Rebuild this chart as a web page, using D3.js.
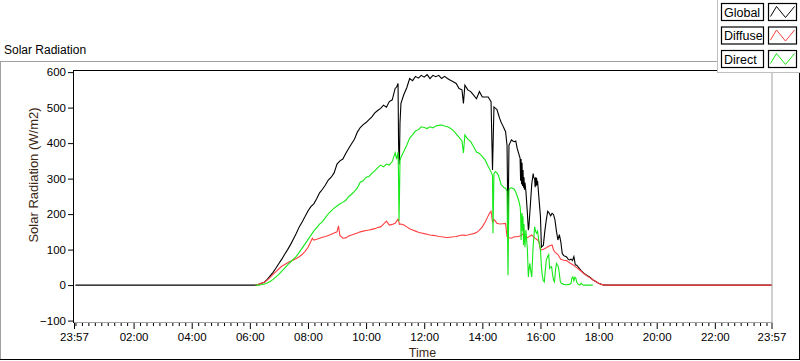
<!DOCTYPE html>
<html><head><meta charset="utf-8">
<script src="https://cdn.jsdelivr.net/npm/d3@7/dist/d3.min.js"></script>
<style>
html,body{margin:0;padding:0;background:#fff;}
svg{display:block;font-family:"Liberation Sans",Arial,sans-serif;}
</style></head>
<body>
<svg id="chart" width="800" height="361"></svg>
<script>
// ---------- DATA ----------
const chartTitle = "Solar Radiation";
const yAxisTitle = "Solar Radiation (W/m2)";
const xAxisTitle = "Time";
const seriesNames = ["Global", "Diffuse", "Direct"];
const seriesColors = ["#000000", "#ff3f3f", "#17e817"];
const yTickValues = [-100, 0, 100, 200, 300, 400, 500, 600];
const xMajorTickLabels = ["02:00","04:00","06:00","08:00","10:00","12:00","14:00","16:00","18:00","20:00","22:00"];
const xDomainLabels = ["23:57", "23:57"]; // previous day 23:57 -> 23:57

const globalSeries = [["00:00",0],["06:00",0],["06:12",0],["06:18",2],["06:24",5],["06:30",8],["06:36",16],["06:42",26],["06:48",36],["06:54",48],["07:00",61],["07:06",73],["07:12",87],["07:18",100],["07:24",114],["07:30",130],["07:36",146],["07:42",164],["07:48",178],["07:54",193],["08:00",209],["08:06",221],["08:12",229],["08:18",243],["08:24",260],["08:30",270],["08:36",282],["08:42",296],["08:48",304],["08:54",316],["09:00",341],["09:06",350],["09:12",355],["09:18",371],["09:24",385],["09:30",398],["09:36",411],["09:42",431],["09:48",444],["09:54",452],["10:00",458],["10:06",466],["10:12",474],["10:18",485],["10:24",492],["10:30",498],["10:36",507],["10:42",501],["10:48",517],["10:54",522],["11:00",554],["11:03",558],["11:06",568],["11:07",405],["11:08",340],["11:09",365],["11:10",456],["11:12",512],["11:18",537],["11:24",556],["11:30",582],["11:36",576],["11:42",588],["11:48",583],["11:54",591],["12:00",586],["12:06",593],["12:12",582],["12:18",591],["12:24",587],["12:30",591],["12:36",582],["12:42",588],["12:48",582],["12:54",577],["13:00",573],["13:06",568],["13:12",554],["13:18",550],["13:21",512],["13:24",563],["13:30",550],["13:36",545],["13:42",535],["13:48",525],["13:54",545],["14:00",530],["14:06",530],["14:12",530],["14:18",517],["14:21",324],["14:24",502],["14:27",498],["14:30",495],["14:33",482],["14:36",469],["14:39",458],["14:42",450],["14:45",441],["14:48",432],["14:51",394],["14:53",155],["14:55",394],["14:57",400],["15:00",409],["15:03",406],["15:06",404],["15:09",406],["15:12",385],["15:15",371],["15:18",357],["15:19",294],["15:20",355],["15:21",284],["15:22",345],["15:23",279],["15:24",324],["15:25",274],["15:26",304],["15:27",269],["15:28",289],["15:30",264],["15:33",203],["15:35",155],["15:36",162],["15:39",223],["15:42",284],["15:45",314],["15:46",304],["15:48",299],["15:49",276],["15:50",304],["15:51",279],["15:52",302],["15:53",282],["15:54",294],["15:57",243],["16:00",193],["16:02",107],["16:04",110],["16:06",112],["16:09",152],["16:12",183],["16:15",208],["16:18",203],["16:21",195],["16:24",202],["16:27",199],["16:30",183],["16:33",152],["16:36",127],["16:39",142],["16:42",122],["16:45",89],["16:48",83],["16:51",81],["16:54",79],["16:57",73],["17:00",71],["17:03",73],["17:06",69],["17:09",80],["17:12",57],["17:15",56],["17:18",51],["17:24",41],["17:30",33],["17:36",27],["17:42",22],["17:48",15],["17:54",10],["18:00",5],["18:06",2],["18:12",0],["23:57",0]];

const diffuseSeries = [["06:12",0],["06:18",2],["06:24",5],["06:30",8],["06:36",14],["06:42",22],["06:48",30],["06:54",38],["07:00",46],["07:06",53],["07:12",58],["07:18",63],["07:24",67],["07:30",71],["07:36",75],["07:42",80],["07:48",86],["07:54",95],["08:00",106],["08:06",123],["08:09",132],["08:12",127],["08:18",129],["08:24",132],["08:30",135],["08:36",137],["08:42",140],["08:48",143],["08:54",147],["09:00",150],["09:03",167],["09:06",140],["09:12",132],["09:18",133],["09:24",138],["09:30",141],["09:36",144],["09:42",147],["09:48",150],["09:54",152],["10:00",154],["10:06",155],["10:12",157],["10:18",159],["10:24",162],["10:30",164],["10:36",172],["10:42",180],["10:48",169],["10:54",171],["11:00",174],["11:06",186],["11:09",171],["11:12",172],["11:18",169],["11:24",164],["11:30",159],["11:36",155],["11:42",152],["11:48",149],["11:54",147],["12:00",145],["12:06",143],["12:12",141],["12:18",140],["12:24",139],["12:30",137],["12:36",136],["12:42",135],["12:48",134],["12:54",135],["13:00",136],["13:06",137],["13:12",139],["13:18",141],["13:24",140],["13:30",141],["13:36",143],["13:42",145],["13:48",148],["13:54",155],["14:00",164],["14:06",178],["14:12",195],["14:15",203],["14:18",208],["14:21",178],["14:24",185],["14:27",180],["14:30",174],["14:36",172],["14:42",173],["14:48",174],["14:51",136],["14:53",134],["15:00",132],["15:06",136],["15:12",136],["15:18",138],["15:24",144],["15:30",132],["15:36",136],["15:42",141],["15:48",133],["15:54",127],["15:57",122],["16:00",98],["16:06",101],["16:12",105],["16:18",110],["16:24",113],["16:27",99],["16:30",93],["16:36",86],["16:42",73],["16:48",70],["16:54",69],["17:00",63],["17:06",58],["17:12",52],["17:18",46],["17:24",39],["17:30",32],["17:36",26],["17:42",21],["17:48",15],["17:54",10],["18:00",5],["18:06",2],["18:12",0],["23:57",0]];

const directSeries = [["06:12",0],["06:18",0],["06:24",1],["06:30",3],["06:36",6],["06:42",10],["06:48",16],["06:54",23],["07:00",30],["07:06",39],["07:12",48],["07:18",57],["07:24",65],["07:30",73],["07:36",81],["07:42",92],["07:48",104],["07:54",116],["08:00",128],["08:06",140],["08:12",152],["08:18",162],["08:24",172],["08:30",179],["08:36",190],["08:42",201],["08:48",209],["08:54",217],["09:00",223],["09:06",229],["09:12",233],["09:18",239],["09:24",249],["09:30",256],["09:36",264],["09:42",274],["09:48",290],["09:54",294],["10:00",304],["10:06",306],["10:12",315],["10:18",322],["10:24",331],["10:30",338],["10:36",333],["10:42",341],["10:48",338],["10:54",348],["11:00",373],["11:03",355],["11:06",375],["11:07",304],["11:08",180],["11:09",254],["11:10",350],["11:12",360],["11:18",377],["11:24",394],["11:30",414],["11:36",423],["11:42",434],["11:48",438],["11:54",446],["12:00",444],["12:06",441],["12:12",446],["12:18",443],["12:24",448],["12:30",450],["12:36",451],["12:42",448],["12:48",446],["12:54",442],["13:00",436],["13:06",426],["13:12",416],["13:18",406],["13:21",372],["13:24",423],["13:30",411],["13:36",404],["13:42",390],["13:48",375],["13:54",371],["14:00",362],["14:06",352],["14:12",335],["14:18",319],["14:21",309],["14:22",146],["14:24",314],["14:27",320],["14:30",316],["14:33",310],["14:36",296],["14:39",282],["14:42",279],["14:45",274],["14:48",273],["14:51",264],["14:53",28],["14:55",269],["14:57",273],["15:00",274],["15:06",270],["15:09",262],["15:12",251],["15:15",239],["15:18",221],["15:19",203],["15:20",127],["15:21",193],["15:22",203],["15:23",152],["15:24",193],["15:25",113],["15:26",172],["15:28",107],["15:30",155],["15:33",101],["15:35",23],["15:36",40],["15:38",61],["15:40",40],["15:42",23],["15:45",112],["15:46",127],["15:48",164],["15:50",152],["15:52",146],["15:54",152],["15:57",122],["16:00",101],["16:02",52],["16:04",25],["16:06",12],["16:08",9],["16:10",41],["16:12",70],["16:15",81],["16:17",86],["16:19",47],["16:21",51],["16:23",52],["16:25",30],["16:27",14],["16:29",9],["16:31",41],["16:33",61],["16:35",56],["16:37",52],["16:39",32],["16:41",10],["16:43",5],["16:48",2],["16:54",1],["17:00",2],["17:03",5],["17:05",20],["17:07",23],["17:09",12],["17:11",22],["17:13",20],["17:15",8],["17:18",2],["17:21",0],["17:24",5],["17:27",1],["17:30",0],["17:48",0]];

// ---------- LAYOUT ----------
const svg = d3.select("#chart");
const plot = {left: 73.5, right: 771.5, top: 70, bottom: 322};

function parseT(s, dayOffset = 0) {
  const [h, m] = s.split(":").map(Number);
  return new Date(2000, 0, 1 + dayOffset, h, m);
}
const x = d3.scaleTime()
  .domain([parseT(xDomainLabels[0], -1), parseT(xDomainLabels[1])])
  .range([plot.left + 0.5, plot.right]);
const y = d3.scaleLinear().domain([-104, 606]).range([plot.bottom, plot.top]);

// outer frame
svg.append("line").attr("x1", 0).attr("x2", 717).attr("y1", 61.5).attr("y2", 61.5).attr("stroke", "#a0a0a0");
svg.append("line").attr("x1", 0.5).attr("x2", 0.5).attr("y1", 61).attr("y2", 360).attr("stroke", "#a0a0a0");
svg.append("line").attr("x1", 0).attr("x2", 800).attr("y1", 359.5).attr("y2", 359.5).attr("stroke", "#000");
svg.append("line").attr("x1", 799.5).attr("x2", 799.5).attr("y1", 61).attr("y2", 360).attr("stroke", "#000");

// title
svg.append("text").attr("x", 4).attr("y", 54).attr("font-size", "12px").attr("fill", "#000").text(chartTitle);

// plot frame: top & left black, bottom & right gray
svg.append("line").attr("x1", plot.left).attr("x2", plot.right).attr("y1", plot.top + 0.5).attr("y2", plot.top + 0.5).attr("stroke", "#000");
svg.append("line").attr("x1", plot.right + 0.5).attr("x2", plot.right + 0.5).attr("y1", plot.top).attr("y2", plot.bottom + 1).attr("stroke", "#a0a0a0");
svg.append("line").attr("x1", plot.left).attr("x2", plot.right + 1).attr("y1", plot.bottom + 0.5).attr("y2", plot.bottom + 0.5).attr("stroke", "#a0a0a0");
svg.append("line").attr("x1", plot.left).attr("x2", plot.left).attr("y1", plot.top).attr("y2", plot.bottom + 1).attr("stroke", "#000");

// y axis
const yAxis = d3.axisLeft(y).tickValues(yTickValues).tickSize(5).tickPadding(2).tickFormat(d3.format("d"));
const yg = svg.append("g").attr("transform", `translate(${plot.left - 0.5},0)`).call(yAxis);
yg.select(".domain").remove();
yg.selectAll("text").attr("font-size", "11.5px").attr("fill", "#000").attr("font-family", "Liberation Sans, Arial, sans-serif");
yg.selectAll("line").attr("stroke", "#000");

// x axis major ticks
const majorDates = [x.domain()[0], ...xMajorTickLabels.map(s => parseT(s)), x.domain()[1]];
const majorLabels = [xDomainLabels[0], ...xMajorTickLabels, xDomainLabels[1]];
const xAxis = d3.axisBottom(x).tickValues(majorDates).tickSize(6).tickPadding(4)
  .tickFormat((d, i) => majorLabels[i]);
const xg = svg.append("g").attr("transform", `translate(0,${plot.bottom + 1})`).call(xAxis);
xg.select(".domain").remove();
xg.selectAll("text").attr("font-size", "11.5px").attr("fill", "#000").attr("font-family", "Liberation Sans, Arial, sans-serif");
xg.selectAll("line").attr("stroke", "#000");

// x minor ticks: 9 subdivisions per 2 hours from 00:00
const minorDates = [];
for (let h = 0; h < 24; h += 2) {
  for (let k = 0; k < 9; k++) {
    const secs = Math.round(k * 120 / 9 * 60);
    const d = new Date(2000, 0, 1, h, 0, secs);
    if ((k !== 0 || h === 0) && d < x.domain()[1]) minorDates.push(d);
  }
}
const xMinor = d3.axisBottom(x).tickValues(minorDates).tickSize(3).tickFormat("");
const xmg = svg.append("g").attr("transform", `translate(0,${plot.bottom + 1})`).call(xMinor);
xmg.select(".domain").remove();
xmg.selectAll("line").attr("stroke", "#000");

// axis titles
svg.append("text").attr("transform", `translate(38,175) rotate(-90)`).attr("text-anchor", "middle")
  .attr("font-size", "13px").attr("fill", "#3c2814").text(yAxisTitle);
svg.append("text").attr("x", (plot.left + plot.right) / 2).attr("y", 357).attr("text-anchor", "middle")
  .attr("font-size", "12.5px").attr("fill", "#3c2814").text(xAxisTitle);

// lines
svg.append("clipPath").attr("id", "clip").append("rect")
  .attr("x", plot.left + 0.5).attr("y", plot.top + 1).attr("width", plot.right - plot.left).attr("height", plot.bottom - plot.top - 1);
const line = d3.line().x(d => x(parseT(d[0]))).y(d => y(d[1]));
const allSeries = [globalSeries, diffuseSeries, directSeries];
const lg = svg.append("g").attr("clip-path", "url(#clip)");
allSeries.forEach((s, i) => {
  lg.append("path").datum(s).attr("d", line).attr("fill", "none")
    .attr("stroke", seriesColors[i]).attr("stroke-width", 1.1).attr("stroke-linejoin", "miter");
});

// legend
const leg = svg.append("g");
leg.append("rect").attr("x", 717).attr("y", -1).attr("width", 84).attr("height", 73).attr("fill", "#fff");
leg.append("line").attr("x1", 717.5).attr("x2", 717.5).attr("y1", 0).attr("y2", 73).attr("stroke", "#c0c0c0");
leg.append("line").attr("x1", 717).attr("x2", 800).attr("y1", 72.5).attr("y2", 72.5).attr("stroke", "#c0c0c0");
seriesNames.forEach((name, i) => {
  const top = 3.5 + i * 23.5;
  leg.append("rect").attr("x", 721.5).attr("y", top).attr("width", 42).attr("height", 17)
    .attr("fill", "#fff").attr("stroke", "#000").attr("stroke-width", 1.2);
  leg.append("text").attr("x", 724).attr("y", top + 13).attr("font-size", "12.5px").attr("fill", "#000").text(name);
  leg.append("rect").attr("x", 768.5).attr("y", top).attr("width", 28).attr("height", 17)
    .attr("fill", "#fff").attr("stroke", "#000").attr("stroke-width", 1.2);
  const gx = 768.5, gy = top;
  leg.append("path").attr("d", `M${gx + 2},${gy + 13} L${gx + 8},${gy + 3} L${gx + 17},${gy + 14} L${gx + 26},${gy + 3}`)
    .attr("fill", "none").attr("stroke", seriesColors[i]).attr("stroke-width", 1);
});
</script>
</body></html>
